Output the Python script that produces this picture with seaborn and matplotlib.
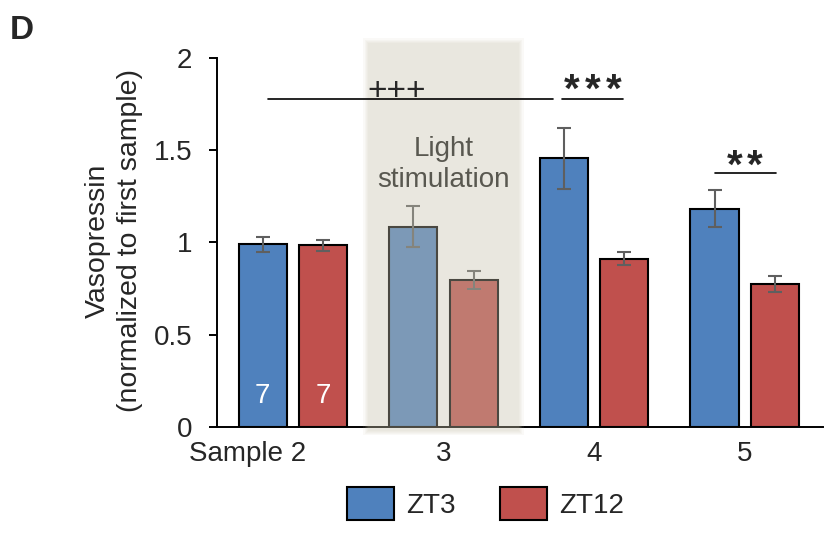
import numpy as np
import pandas as pd
import matplotlib
matplotlib.use("Agg")
import matplotlib.pyplot as plt
import seaborn as sns
from matplotlib.patches import Rectangle
from matplotlib.transforms import ScaledTranslation

# data
samples = ["Sample 2", "3", "4", "5"]
groups = ["ZT3", "ZT12"]
zt3_mean = [0.99, 1.086, 1.456, 1.183]
zt3_sem = [0.042, 0.11, 0.166, 0.10]
zt12_mean = [0.985, 0.797, 0.911, 0.775]
zt12_sem = [0.03, 0.049, 0.035, 0.043]
n_labels = ["7", "7"]

df = pd.DataFrame({
    "sample": samples * 2,
    "group": ["ZT3"] * 4 + ["ZT12"] * 4,
    "value": zt3_mean + zt12_mean,
})

sns.set_style("white")
plt.rcParams["font.family"] = ["Liberation Sans", "DejaVu Sans"]
FS = 20

fig = plt.figure(figsize=(8.25, 5.39), dpi=100)
ax = fig.add_axes([0.2634, 0.2078, 0.7342, 0.7223])

sns.barplot(data=df, x="sample", y="value", hue="group", order=samples,
            hue_order=groups, palette=["#4F81BD", "#C0504D"], saturation=1,
            width=0.8, gap=0.2, edgecolor="black", linewidth=1.5,
            errorbar=None, ax=ax)

# error bars on top of the seaborn bars
for cont, errs in zip(ax.containers, [zt3_sem, zt12_sem]):
    xs = [b.get_x() + b.get_width() / 2 for b in cont]
    ax.errorbar(xs, cont.datavalues, yerr=errs, fmt="none", ecolor="#5f5f5f",
                elinewidth=1.5, capsize=4.8, capthick=1.5, zorder=2.5)

# n labels in first group
for cont, lab in zip(ax.containers, n_labels):
    b = cont[0]
    ax.text(b.get_x() + b.get_width() / 2, 0.168, lab, color="white",
            fontsize=FS, ha="center", va="center", zorder=3)

ax.set_xlim(-0.502, 3.52)
ax.set_ylim(0, 2.11)
ax.set_yticks([0, 0.5, 1, 1.5, 2])
ax.set_yticklabels(["0", "0.5", "1", "1.5", "2"])
ax.spines["top"].set_visible(False)
ax.spines["right"].set_visible(False)
ax.spines["left"].set_bounds(0, 2)
for s in ["left", "bottom"]:
    ax.spines[s].set_color("black")
    ax.spines[s].set_linewidth(1.4)
ax.tick_params(axis="y", length=6, width=1.4, color="black", pad=12,
               labelsize=FS, left=True, direction="out")
ax.tick_params(axis="x", length=0, pad=10, labelsize=FS)
lab0 = ax.get_xticklabels()[0]
lab0.set_transform(lab0.get_transform() + ScaledTranslation(-0.45, 0, fig.dpi_scale_trans))

ax.set_xlabel("")
ax.set_ylabel("Vasopressin\n(normalized to first sample)", fontsize=20.5, linespacing=1.3)
ax.yaxis.set_label_coords(-0.1226, 0.478)

# light stimulation shade (soft edges), drawn over the bars
dx, dy = 0.008, 0.0065
for k in range(5):
    ax.add_patch(Rectangle((0.5 - k * dx, -0.02 - k * dy), 1.0 + 2 * k * dx,
                           2.10 + 2 * k * dy,
                           facecolor="#CBC6B0", edgecolor="none", alpha=0.091,
                           zorder=3, clip_on=False))
ax.text(1.0, 1.42, "Light\nstimulation", fontsize=FS, color="#595850",
        ha="center", va="center", linespacing=1.25, zorder=5)

# significance marks
ax.plot([-0.166, 1.73], [1.778, 1.778], color="black", lw=1.2, zorder=5, clip_on=False)
ax.text(0.69, 1.82, "+++", fontsize=24, ha="center", va="center", zorder=5)
ax.plot([1.79, 2.19], [1.778, 1.778], color="black", lw=1.2, zorder=5)
for off in [-0.139, 0, 0.139]:
    ax.text(1.99 + off, 1.765, "*", fontsize=29, fontweight="bold", ha="center",
            va="baseline", zorder=5)
ax.plot([2.80, 3.21], [1.377, 1.377], color="black", lw=1.2, zorder=5)
for off in [-0.065, 0.065]:
    ax.text(3.0 + off, 1.351, "*", fontsize=29, fontweight="bold", ha="center",
            va="baseline", zorder=5)

sns.move_legend(ax, "center", bbox_to_anchor=(0.443, -0.1965), ncol=2,
                frameon=False, title=None, fontsize=FS, handlelength=1.67,
                handleheight=1.48, handletextpad=0.45, columnspacing=1.6)

fig.text(10 / 825, 1 - 39 / 539, "D", fontsize=24, fontweight="bold", va="baseline")

fig.savefig("out.png", dpi=100)
